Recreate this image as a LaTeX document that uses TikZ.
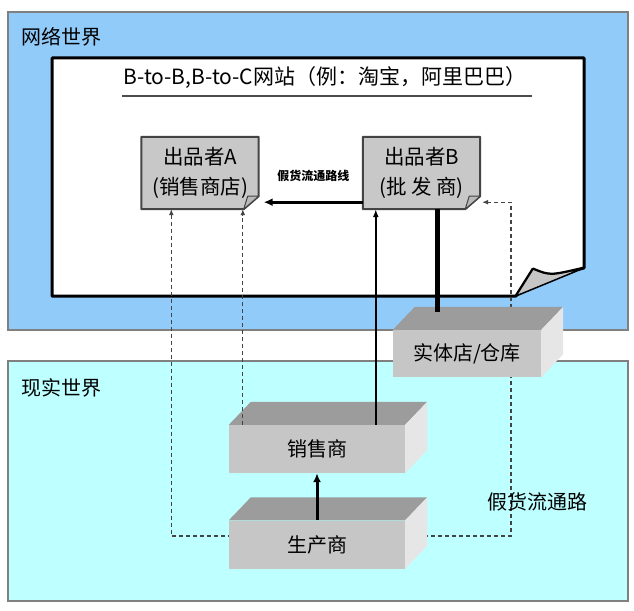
\documentclass[tikz,border=0pt]{standalone}
\usepackage{fontspec}
\setmainfont{Noto Sans CJK SC}
\usetikzlibrary{arrows.meta,backgrounds}
\definecolor{netblue}{RGB}{145,203,250}
\definecolor{realcyan}{RGB}{190,255,255}
\definecolor{boxgray}{RGB}{200,200,200}
\definecolor{frontgray}{RGB}{198,198,198}
\definecolor{topgray}{RGB}{156,156,156}
\definecolor{sidegray}{RGB}{230,230,230}
\definecolor{edgegray}{RGB}{68,68,68}

\begin{document}
\begin{tikzpicture}[x=1pt,y=-1pt,
  world/.style={draw=gray, line width=1.2pt},
  worldname/.style={font=\fontsize{20}{24}\selectfont},
  crate/.style={fill=frontgray, minimum width=176pt, minimum height=48pt, inner sep=0pt, font=\fontsize{20}{24}\selectfont},
  seller/.style={minimum width=117pt, minimum height=72pt, inner sep=0pt, align=center, font=\fontsize{20.5}{30}\selectfont},
  flow/.style={-{Latex[length=9pt,width=8pt]}, line width=3pt},
  fake/.style={edgegray, line width=1.1pt, dash pattern=on 4pt off 3pt}]
\useasboundingbox (0,0) rectangle (634,610);

% the two worlds and the web page
\begin{scope}[on background layer]
\filldraw[world, fill=netblue] (8,12) rectangle (628,330);
\filldraw[world, fill=realcyan] (8,361) rectangle (628,601);
\filldraw[fill=white, line width=3pt, line join=round] (52,58) -- (584,58) -- (584,268) .. controls (550,276) .. (533,269) -- (516,296) -- (52,296) -- cycle;
\filldraw[fill=gray!45, line width=1.5pt, line join=round] (516,296) -- (584,268) .. controls (550,276) .. (533,269) -- cycle;
\draw[gray!60!black, line width=1.5pt] (122,96) -- (532,96);
\end{scope}

\node[worldname, anchor=west] (net) at (18,37) {网络世界};
\node[worldname, anchor=west] (real) at (18,388) {现实世界};
\node[font=\fontsize{21}{24}\selectfont] (title) at (325,78) {B-to-B,B-to-C网站（例：淘宝，阿里巴巴）};

\node[seller] (sellerA) at (200,173) {出品者A\\(销售商店)};
\node[seller] (sellerB) at (421.5,173) {出品者B\\(批 发 商)};

% dog-eared boxes behind the text
\begin{scope}[on background layer]
\foreach \s in {sellerA,sellerB} {
  \filldraw[fill=boxgray, draw=edgegray, line width=2pt, line join=round]
    (\s.north west) -- (\s.north east) -- ([yshift=13pt]\s.south east) -- ([xshift=-15pt]\s.south east) -- (\s.south west) -- cycle;
  \filldraw[fill=gray!55, draw=edgegray, line width=1pt, line join=round]
    ([yshift=13pt]\s.south east) -- ([xshift=-15pt]\s.south east) -- ([xshift=-11pt,yshift=13pt]\s.south east) -- cycle;
}
\end{scope}

% counterfeit route, partly hidden by the crates
\coordinate (loopturn) at (511,536);
\draw[fake, {Latex[length=6pt,width=5pt]}-{Latex[length=6pt,width=5pt]}] ([xshift=30pt]sellerA.south west) |- (loopturn) |- ([xshift=2pt,yshift=7pt]sellerB.south east);

\node[crate, minimum width=148pt, minimum height=47pt] (shop) at (467,353.5) {实体店/仓库};
\node[crate] (seller) at (317,449) {销售商};
\node[crate] (maker) at (317,544.5) {生产商};

\foreach \c in {shop,seller,maker} {
  \fill[topgray] (\c.north west) -- ([xshift=22pt,yshift=23pt]\c.north west) -- ([xshift=22pt,yshift=23pt]\c.north east) -- (\c.north east) -- cycle;
  \fill[sidegray] (\c.north east) -- ([xshift=22pt,yshift=23pt]\c.north east) -- ([xshift=22pt,yshift=23pt]\c.south east) -- (\c.south east) -- cycle;
}

\draw[flow] (maker.north) -- (seller.south);

\coordinate (dropA) at ([xshift=14pt]seller.north west);
\draw[fake, -{Latex[length=6pt,width=5pt]}] (dropA) -- (dropA |- sellerA.south);

\coordinate (riseB) at ([xshift=147pt]seller.north west);
\draw[-{Latex[length=8pt,width=6pt]}, line width=2.5pt] (riseB) -- (riseB |- sellerB.south);

\coordinate (stock) at ([xshift=-30pt,yshift=18pt]shop.north);
\draw[line width=5pt] (stock) -- (stock |- sellerB.south);

\draw[flow] ([yshift=7pt]sellerB.south west) -- node[above=16pt, font=\bfseries\fontsize{12}{14}\selectfont] (fakeroute) {假货流通路线} ([xshift=5pt,yshift=7pt]sellerA.south east);

\node[worldname] (fakepath) at (537,502) {假货流通路};
\end{tikzpicture}
\end{document}
